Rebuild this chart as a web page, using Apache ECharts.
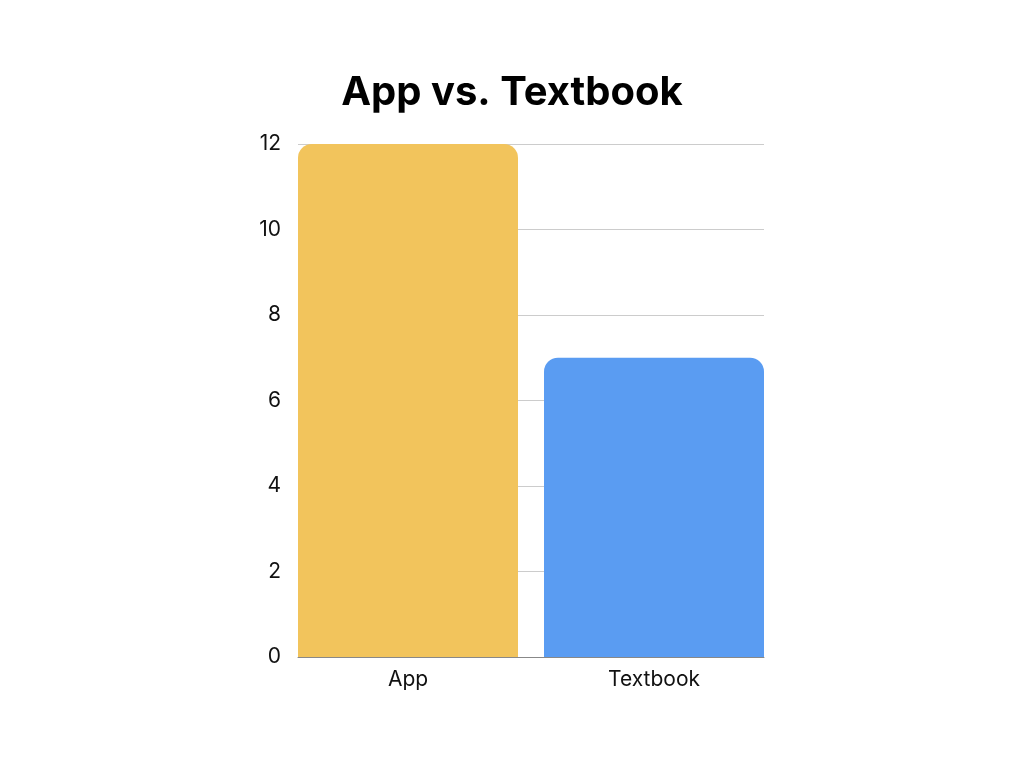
<!DOCTYPE html>
<html>
<head>
<meta charset="utf-8">
<script src="https://cdn.jsdelivr.net/npm/echarts@6/dist/echarts.min.js"></script>
<style>html,body{margin:0;padding:0;background:#fff}#c{width:1024px;height:768px}</style>
</head>
<body>
<div id="c"></div>
<script>
const categories = ["App", "Textbook"];
const values = [12, 7];
const barColors = ["#F2C45C", "#5A9CF2"];
const yMax = 12;
const yInterval = 2;

const chart = echarts.init(document.getElementById('c'));
chart.setOption({
  backgroundColor: '#ffffff',
  animation: false,
  title: {
    text: 'App vs. Textbook',
    left: 'center',
    top: 68,
    textStyle: { fontFamily: 'Inter', fontWeight: 'bold', fontSize: 40, color: '#000' }
  },
  grid: [
    { left: 298, right: 260, top: 144, bottom: 111 },
    { left: 285, right: 247, top: 144, bottom: 111 }
  ],
  xAxis: [
    { type: 'category', gridIndex: 0, data: categories,
      axisLine: { show: true, lineStyle: { color: '#888', width: 1 } },
      axisTick: { show: false }, axisLabel: { show: false }, splitLine: { show: false } },
    { type: 'category', gridIndex: 1, data: categories,
      axisLine: { show: false }, axisTick: { show: false },
      axisLabel: { fontFamily: 'Inter', fontSize: 21, color: '#111', margin: 12 } }
  ],
  yAxis: [
    { type: 'value', gridIndex: 0, min: 0, max: yMax, interval: yInterval,
      axisLine: { show: false }, axisTick: { show: false },
      axisLabel: { fontFamily: 'Inter', fontSize: 21, color: '#111', margin: 17, padding: [4, 0, 0, 0] },
      splitLine: { lineStyle: { color: '#cccccc', width: 1 } } },
    { type: 'value', gridIndex: 1, min: 0, max: yMax, interval: yInterval,
      show: false, splitLine: { show: false } }
  ],
  series: [{
    type: 'bar',
    xAxisIndex: 1, yAxisIndex: 1,
    barWidth: 220,
    data: values.map((v, i) => ({ value: v, itemStyle: { color: barColors[i], borderRadius: [14, 14, 0, 0] } })),
    z: 1
  }]
});
</script>
</body>
</html>
